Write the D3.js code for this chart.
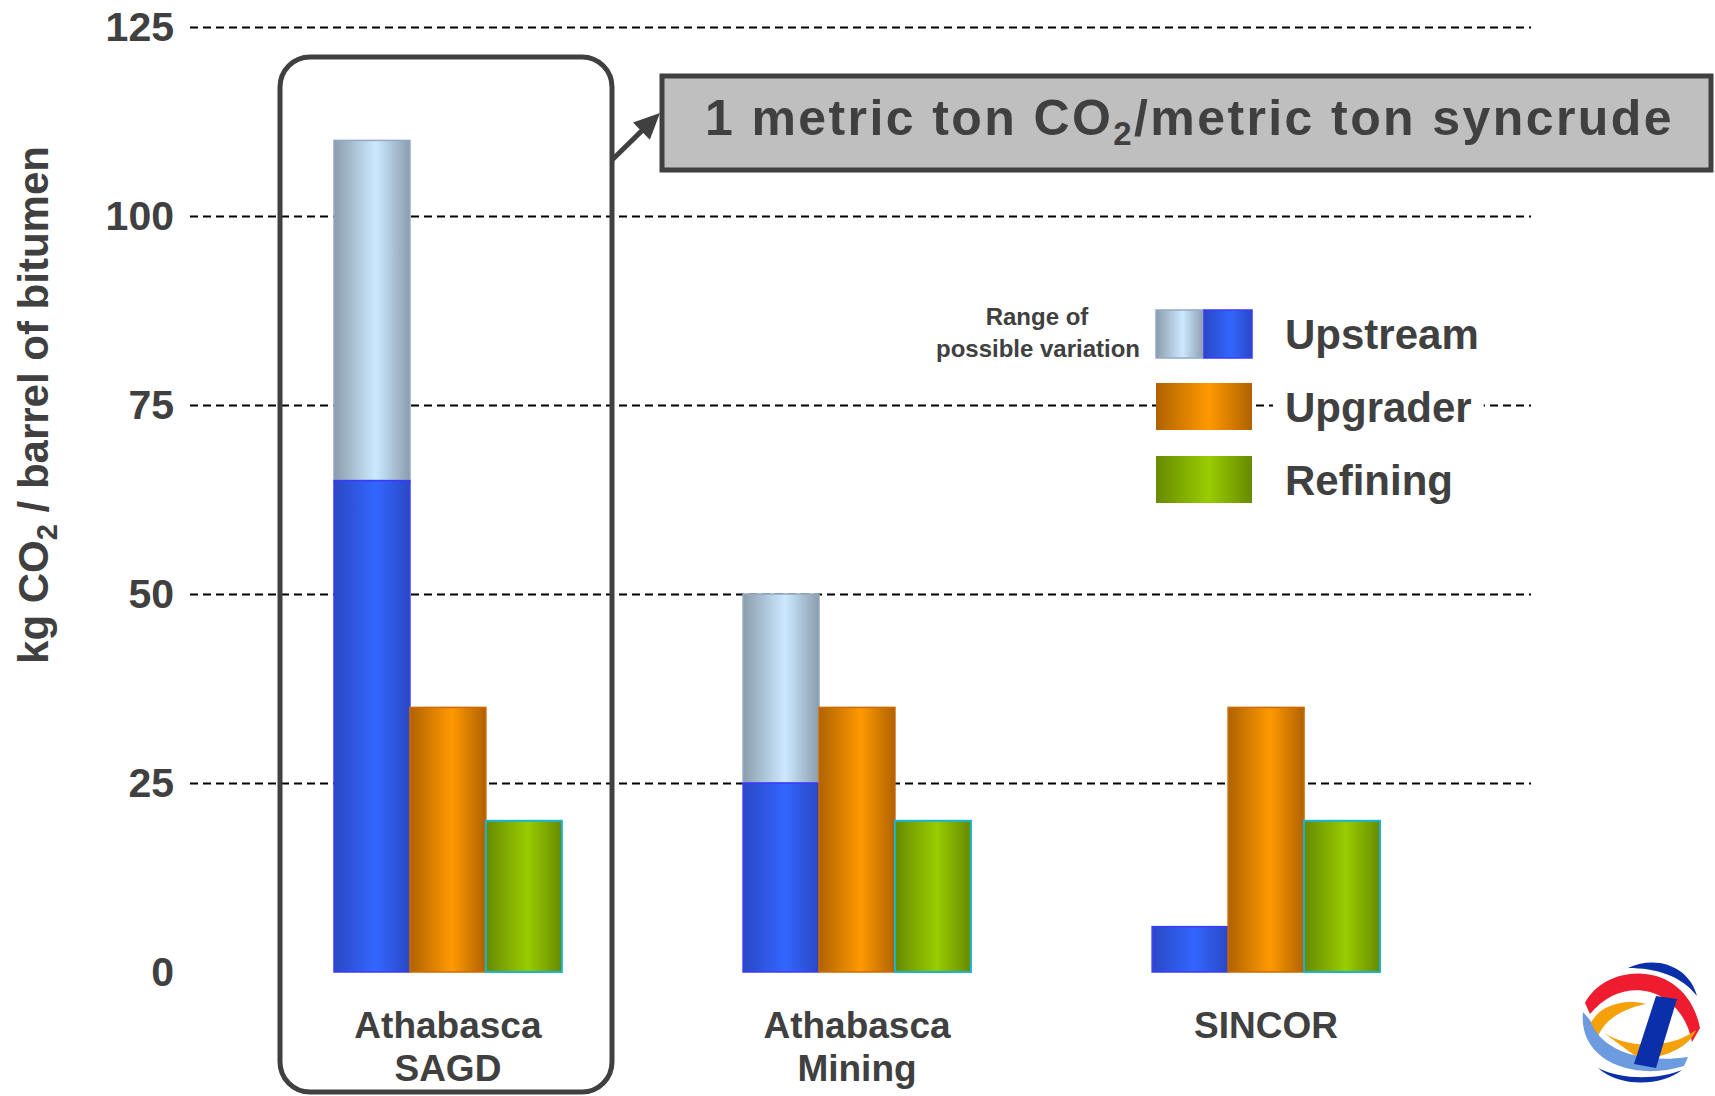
<!DOCTYPE html>
<html>
<head>
<meta charset="utf-8">
<script src="https://cdn.jsdelivr.net/npm/d3@7"></script>
<style>
  body { margin: 0; background: #fff; }
  svg text { font-family: Arial, "Liberation Sans", sans-serif; font-weight: bold; fill: #404040; }
</style>
</head>
<body>
<div id="chart"></div>
<script>
// Data
const categories = ["Athabasca SAGD", "Athabasca Mining", "SINCOR"];
const categoryLines = [["Athabasca", "SAGD"], ["Athabasca", "Mining"], ["SINCOR"]];
const series = ["Upstream", "Upgrader", "Refining"];
const upstreamLow = [65, 25, 6];      // solid blue part
const upstreamHigh = [110, 50, 6];    // top of the range of possible variation
const upgrader = [35, 35, 35];
const refining = [20, 20, 20];
const yTicks = [0, 25, 50, 75, 100, 125];

const W = 1715, H = 1096;

const svg = d3.select("#chart").append("svg")
    .attr("width", W)
    .attr("height", H);

// gradients: dark edges, light middle
const defs = svg.append("defs");
function grad(id, edge, mid) {
    const g = defs.append("linearGradient").attr("id", id)
        .attr("x1", "0%").attr("x2", "100%").attr("y1", "0%").attr("y2", "0%");
    g.append("stop").attr("offset", "0%").attr("stop-color", edge);
    g.append("stop").attr("offset", "55%").attr("stop-color", mid);
    g.append("stop").attr("offset", "100%").attr("stop-color", edge);
}
grad("gRange", "#8a9dad", "#cde9ff");
grad("gBlue", "#2a48c4", "#3366ff");
grad("gOrange", "#b06200", "#ff9900");
grad("gGreen", "#678a00", "#99cc00");

// scales
const y = d3.scaleLinear().domain([0, 125]).range([972, 27]);
const x0 = d3.scaleBand().domain(categories).range([334, 1380]).paddingInner(0.443);
const x1 = d3.scaleBand().domain(series).range([0, x0.bandwidth()]);

// gridlines
const grid = svg.append("g")
    .attr("transform", "translate(190,0)")
    .call(d3.axisLeft(y).tickValues(yTicks.filter(d => d > 0)).tickSize(-(1531 - 190)).tickFormat(""));
grid.select(".domain").remove();
grid.selectAll("line")
    .attr("stroke", "#000")
    .attr("stroke-width", 2)
    .attr("stroke-dasharray", "8,5");

// y axis labels
const yAxis = svg.append("g")
    .attr("transform", "translate(190,0)")
    .call(d3.axisLeft(y).tickValues(yTicks).tickSize(0).tickPadding(16));
yAxis.select(".domain").remove();
yAxis.selectAll("text")
    .attr("font-size", "41px")
    .attr("dy", "0.34em")
    .style("font-family", "Arial, 'Liberation Sans', sans-serif")
    .style("font-weight", "bold")
    .attr("fill", "#404040");

// y axis title
const yTitle = svg.append("text")
    .attr("transform", "translate(48,405) rotate(-90)")
    .attr("text-anchor", "middle")
    .attr("font-size", "42px");
yTitle.append("tspan").text("kg CO");
yTitle.append("tspan").attr("font-size", "29px").attr("dy", 9).text("2");
yTitle.append("tspan").attr("dy", -9).text(" / barrel of bitumen");

// bars
const groups = svg.selectAll(".grp")
    .data(categories)
    .enter().append("g")
    .attr("class", "grp")
    .attr("transform", d => `translate(${x0(d)},0)`);

const bw = x1.bandwidth();

// range of possible variation (upstream)
groups.filter((d, i) => upstreamHigh[i] > upstreamLow[i])
    .append("rect")
    .attr("x", x1("Upstream"))
    .attr("width", bw)
    .attr("y", d => y(upstreamHigh[categories.indexOf(d)]))
    .attr("height", d => y(upstreamLow[categories.indexOf(d)]) - y(upstreamHigh[categories.indexOf(d)]))
    .attr("fill", "url(#gRange)")
    .attr("stroke", "#93a8c6")
    .attr("stroke-width", 1.5);

groups.append("rect")
    .attr("x", x1("Upstream"))
    .attr("width", bw)
    .attr("y", d => y(upstreamLow[categories.indexOf(d)]))
    .attr("height", d => y(0) - y(upstreamLow[categories.indexOf(d)]))
    .attr("fill", "url(#gBlue)")
    .attr("stroke", "#3a3aff")
    .attr("stroke-width", 1.5);

groups.append("rect")
    .attr("x", x1("Upgrader"))
    .attr("width", bw)
    .attr("y", d => y(upgrader[categories.indexOf(d)]))
    .attr("height", d => y(0) - y(upgrader[categories.indexOf(d)]))
    .attr("fill", "url(#gOrange)")
    .attr("stroke", "#cc6a00")
    .attr("stroke-width", 1.5);

groups.append("rect")
    .attr("x", x1("Refining"))
    .attr("width", bw)
    .attr("y", d => y(refining[categories.indexOf(d)]))
    .attr("height", d => y(0) - y(refining[categories.indexOf(d)]))
    .attr("fill", "url(#gGreen)")
    .attr("stroke", "#18b4d0")
    .attr("stroke-width", 2);

// category labels
groups.each(function(d, i) {
    const t = d3.select(this).append("text")
        .attr("x", x0.bandwidth() / 2)
        .attr("y", 1038)
        .attr("text-anchor", "middle")
        .attr("font-size", "37px");
    categoryLines[i].forEach((line, k) => {
        t.append("tspan")
            .attr("x", x0.bandwidth() / 2)
            .attr("dy", k === 0 ? 0 : 43)
            .text(line);
    });
});

// highlight box around SAGD
svg.append("rect")
    .attr("x", 280).attr("y", 57)
    .attr("width", 332).attr("height", 1035)
    .attr("rx", 30).attr("ry", 30)
    .attr("fill", "none")
    .attr("stroke", "#404040")
    .attr("stroke-width", 5);

// title box
svg.append("rect")
    .attr("x", 662).attr("y", 76)
    .attr("width", 1049).attr("height", 94)
    .attr("fill", "#bfbfbf")
    .attr("stroke", "#404040")
    .attr("stroke-width", 5);

const title = svg.append("text")
    .attr("x", 705).attr("y", 135)
    .attr("font-size", "50px")
    .attr("letter-spacing", "2.4px");
title.append("tspan").text("1 metric ton CO");
title.append("tspan").attr("font-size", "33px").attr("dy", 10).text("2");
title.append("tspan").attr("dy", -10).text("/metric ton syncrude");

// arrow from box to title
const ax0 = 612, ay0 = 160, ax1 = 660, ay1 = 113;
const len = Math.hypot(ax1 - ax0, ay1 - ay0);
const ux = (ax1 - ax0) / len, uy = (ay1 - ay0) / len;
const head = 26, half = 12;
const bx = ax1 - ux * head, by = ay1 - uy * head;
svg.append("line")
    .attr("x1", ax0).attr("y1", ay0)
    .attr("x2", bx + ux * 4).attr("y2", by + uy * 4)
    .attr("stroke", "#404040")
    .attr("stroke-width", 5);
svg.append("polygon")
    .attr("points", [
        [ax1, ay1],
        [bx - uy * half, by + ux * half],
        [bx + uy * half, by - ux * half]
    ].map(p => p.join(",")).join(" "))
    .attr("fill", "#404040");

// legend
const legend = svg.append("g");
const legendFill = ["url(#gBlue)", "url(#gOrange)", "url(#gGreen)"];
const legendStroke = ["#3a3aff", "#cc6a00", "#5f8a00"];
series.forEach((s, i) => {
    const cy = 334 + i * 73;
    if (s === "Upstream") {
        legend.append("rect")
            .attr("x", 1156).attr("y", cy - 24).attr("width", 48).attr("height", 48)
            .attr("fill", "url(#gRange)").attr("stroke", "#93a8c6").attr("stroke-width", 1.5);
        legend.append("rect")
            .attr("x", 1204).attr("y", cy - 24).attr("width", 48).attr("height", 48)
            .attr("fill", "url(#gBlue)").attr("stroke", legendStroke[i]).attr("stroke-width", 1.5);
    } else {
        legend.append("rect")
            .attr("x", 1156).attr("y", cy - 24).attr("width", 96).attr("height", 47)
            .attr("fill", legendFill[i]);
    }
    const bg = legend.append("rect").attr("fill", "#fff");
    const t = legend.append("text")
        .attr("x", 1285).attr("y", cy + 15)
        .attr("font-size", "42px")
        .text(s);
    const bb = t.node().getBBox();
    bg.attr("x", bb.x - 12).attr("y", bb.y).attr("width", bb.width + 24).attr("height", bb.height);
});

legend.append("text")
    .attr("x", 1037).attr("y", 325)
    .attr("text-anchor", "middle")
    .attr("font-size", "24px")
    .text("Range of");
legend.append("text")
    .attr("x", 1038).attr("y", 357)
    .attr("text-anchor", "middle")
    .attr("font-size", "24px")
    .text("possible variation");

// logo (simplified)
const logo = svg.append("g");
logo.append("path")
    .attr("d", "M1628 968 C1658 954 1690 968 1697 996 C1682 976 1656 968 1628 968 Z")
    .attr("fill", "#0a2fa8");
logo.append("path")
    .attr("d", "M1585 1003 C1606 962 1686 958 1700 1028 L1692 1042 C1682 988 1624 972 1590 1014 Z")
    .attr("fill", "#ee1c2e");
logo.append("path")
    .attr("d", "M1587 1032 C1594 1006 1622 998 1646 1004 C1622 1009 1602 1020 1596 1042 Z")
    .attr("fill", "#f5a10a");
logo.append("path")
    .attr("d", "M1604 1033 C1632 1050 1672 1048 1696 1030 C1690 1047 1662 1060 1638 1058 Z")
    .attr("fill", "#f5a10a");
logo.append("path")
    .attr("d", "M1583 1012 C1578 1060 1632 1082 1684 1066 L1688 1057 C1640 1064 1600 1050 1590 1020 Z")
    .attr("fill", "#6d9be0");
logo.append("path")
    .attr("d", "M1656 996 L1677 999 L1656 1068 L1634 1064 Z")
    .attr("fill", "#0a2fa8");
logo.append("path")
    .attr("d", "M1598 1068 C1620 1088 1662 1086 1682 1070 C1660 1079 1624 1081 1598 1068 Z")
    .attr("fill", "#0a2fa8");
</script>
</body>
</html>
